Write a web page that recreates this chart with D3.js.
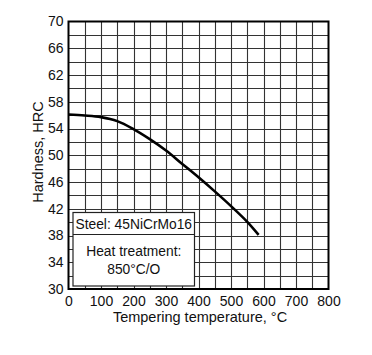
<!DOCTYPE html>
<html><head><meta charset="utf-8">
<script src="https://cdn.jsdelivr.net/npm/d3@7"></script>
<style>body{margin:0;background:#fff}text{font-family:"Liberation Sans",Arial,sans-serif;fill:#111}</style>
</head><body><svg id="c" width="372" height="355"></svg>
<script>
const temps = [0, 50, 100, 150, 200, 250, 300, 350, 400, 450, 500, 550, 585];
const hardness = [56.1, 55.95, 55.7, 55.1, 53.9, 52.4, 50.7, 48.7, 46.7, 44.6, 42.4, 40.05, 38.1];
const xTicks = [0, 100, 200, 300, 400, 500, 600, 700, 800];
const yTicks = [30, 34, 38, 42, 46, 50, 54, 58, 62, 66, 70];
const boxTitle = "Steel: 45NiCrMo16";
const boxLines = ["Heat treatment:", "850\u00b0C/O"];

const svg = d3.select("#c");
const L = 68.5, R = 328.5, T = 21.5, B = 289;
const x = d3.scaleLinear().domain([0, 800]).range([L, R]);
const y = d3.scaleLinear().domain([30, 70]).range([B, T]);

const g = svg.append("g");
// grid
g.selectAll(".vx").data(d3.range(50, 800, 50)).join("line")
  .attr("x1", d => Math.round(x(d)) + 0.5).attr("x2", d => Math.round(x(d)) + 0.5)
  .attr("y1", T).attr("y2", B).attr("stroke", "#333").attr("stroke-width", 1.1);
g.selectAll(".hy").data(d3.range(32, 70, 2)).join("line")
  .attr("y1", d => Math.round(y(d)) + 0.5).attr("y2", d => Math.round(y(d)) + 0.5)
  .attr("x1", L).attr("x2", R).attr("stroke", "#333").attr("stroke-width", 1.1);

// curve
const line = d3.line().x((d, i) => x(temps[i])).y(d => y(d)).curve(d3.curveBasis);
const pts = hardness.slice();
g.append("path").attr("d", d3.line().x((d, i) => x(temps[i])).y(d => y(d)).curve(d3.curveCatmullRom.alpha(0.5))(pts)).attr("fill", "none")
  .attr("stroke", "#000").attr("stroke-width", 2.6).attr("stroke-linecap", "butt");

// border
g.append("rect").attr("x", L).attr("y", T).attr("width", R - L).attr("height", B - T)
  .attr("fill", "none").attr("stroke", "#000").attr("stroke-width", 2);

// axes labels
const xa = g.append("g").attr("transform", `translate(0,${B})`)
  .call(d3.axisBottom(x).tickValues(xTicks).tickSize(0).tickPadding(7));
xa.select(".domain").remove();
xa.selectAll("text").style("font-size", "14px").attr("fill", "#111");
const ya = g.append("g").attr("transform", `translate(${L},0)`)
  .call(d3.axisLeft(y).tickValues(yTicks).tickSize(0).tickPadding(5));
ya.select(".domain").remove();
ya.selectAll("text").style("font-size", "14px").attr("fill", "#111");

svg.append("text").attr("x", 200).attr("y", 322).attr("text-anchor", "middle")
  .style("font-size", "14.5px").text("Tempering temperature, \u00b0C");
svg.append("text").attr("transform", `translate(43,152) rotate(-90)`)
  .attr("text-anchor", "middle").style("font-size", "14.5px").text("Hardness, HRC");

// info box
const bx = 73, bw = 121.5, by = 212.5, bh = 73.5, div = 234.5;
svg.append("rect").attr("x", bx).attr("y", by).attr("width", bw).attr("height", bh)
  .attr("fill", "#fff").attr("stroke", "#222").attr("stroke-width", 1.2);
svg.append("line").attr("x1", bx).attr("x2", bx + bw).attr("y1", div).attr("y2", div)
  .attr("stroke", "#222").attr("stroke-width", 1.2);
svg.append("text").attr("x", bx + bw / 2).attr("y", 229).attr("text-anchor", "middle")
  .style("font-size", "13.8px").text(boxTitle);
svg.selectAll(".bl").data(boxLines).join("text").attr("x", bx + bw / 2)
  .attr("y", (d, i) => 256 + i * 17.5).attr("text-anchor", "middle")
  .style("font-size", "13.8px").text(d => d);
</script></body></html>
